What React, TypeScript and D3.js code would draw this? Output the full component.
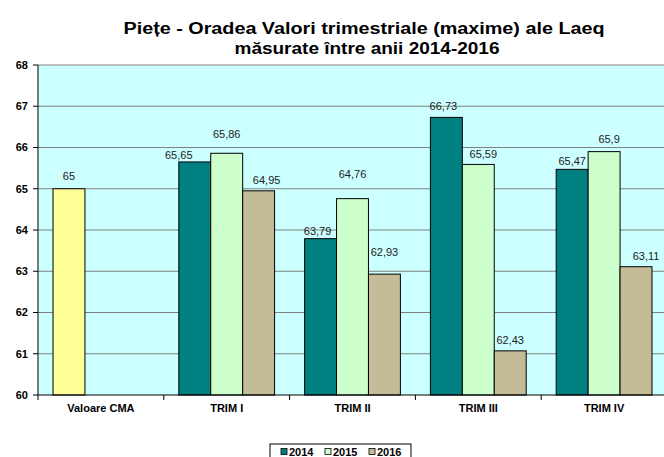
import React from 'react';
import * as d3 from 'd3';

const categories = ['Valoare CMA', 'TRIM I', 'TRIM II', 'TRIM III', 'TRIM IV'];
const years = ['2014', '2015', '2016'];
const cmaValue = 65;
const values2014 = [65.65, 63.79, 66.73, 65.47];
const values2015 = [65.86, 64.76, 65.59, 65.9];
// bar heights as drawn in the picture; the TRIM III 2016 bar sits lower than its label says
const values2016 = [64.95, 62.93, 61.07, 63.11];
const labels2016 = ['64,95', '62,93', '62,43', '63,11'];
const yTicks = [60, 61, 62, 63, 64, 65, 66, 67, 68];

const colors: Record<string, string> = { '2014': '#008080', '2015': '#CCFFCC', '2016': '#C4BC96' };
const cmaColor = '#FFFF99';

// label nudges (px) where the original moved labels to avoid overlap
const labelNudge: Record<string, [number, number]> = {
  cma: [0, -2],
  '2014TRIM I': [-16, 4],
  '2015TRIM I': [0, -9],
  '2016TRIM I': [8, 0],
  '2014TRIM II': [-3, 3],
  '2015TRIM II': [0, -14],
  '2016TRIM II': [0, -12],
  '2014TRIM III': [-3, -1],
  '2015TRIM III': [5, 0],
  '2014TRIM IV': [0, 2],
  '2015TRIM IV': [5, -2],
  '2016TRIM IV': [10, 0],
};

const W = 664;
const H = 457;
const margin = { top: 65, left: 38, bottom: 62 };
const plotRight = 667;

const fmt = (v: number) => String(v).replace('.', ',');

export default function App() {
  const x = d3.scaleBand<string>().domain(categories).range([margin.left, plotRight]).padding(0);
  const xs = d3.scaleBand<string>().domain(years).range([0, x.bandwidth()]).paddingInner(0).paddingOuter(0.47);
  const y = d3.scaleLinear().domain([60, 68]).range([H - margin.bottom, margin.top]);

  const bars: { key: string; x: number; v: number; label: string; fill: string }[] = [];
  bars.push({ key: 'cma', x: (x(categories[0]) ?? 0) + (xs('2014') ?? 0), v: cmaValue, label: fmt(cmaValue), fill: cmaColor });
  const series: [string, number[]][] = [['2014', values2014], ['2015', values2015], ['2016', values2016]];
  series.forEach(([yr, vals]) => {
    vals.forEach((v, i) => {
      const c = categories[i + 1];
      const label = yr === '2016' ? labels2016[i] : fmt(v);
      bars.push({ key: yr + c, x: (x(c) ?? 0) + (xs(yr) ?? 0), v, label, fill: colors[yr] });
    });
  });

  const font = 'Arial, "Liberation Sans", sans-serif';
  const y0 = y(60);

  return (
    <svg width={W} height={H} style={{ position: 'absolute', left: 0, top: 0 }} fontFamily={font}>
      <rect width={W} height={H} fill="#fff" />
      <text x={364} y={34} textAnchor="middle" fontWeight="bold" fontSize={16} textLength={481} lengthAdjust="spacingAndGlyphs">
        Piețe - Oradea Valori trimestriale (maxime) ale Laeq
      </text>
      <text x={367} y={54} textAnchor="middle" fontWeight="bold" fontSize={16} textLength={265} lengthAdjust="spacingAndGlyphs">
        măsurate între anii 2014-2016
      </text>

      <rect x={margin.left} y={margin.top} width={plotRight - margin.left} height={y0 - margin.top} fill="#CCFFFF" />
      {yTicks.map(t => (
        <g key={t}>
          {t > 60 && <line x1={margin.left} x2={plotRight} y1={y(t)} y2={y(t)} stroke="#808080" strokeWidth={1.2} />}
          <line x1={margin.left - 5} x2={margin.left} y1={y(t)} y2={y(t)} stroke="#000" />
          <text x={28} y={y(t)} dy="0.35em" textAnchor="end" fontWeight="bold" fontSize={11}>{t}</text>
        </g>
      ))}

      {bars.map(b => {
        const [nx, ny] = labelNudge[b.key] ?? [0, 0];
        return (
          <g key={b.key}>
            <rect x={b.x} y={y(b.v)} width={xs.bandwidth()} height={y0 - y(b.v)} fill={b.fill} stroke="#000" strokeWidth={1} />
            <text x={b.x + xs.bandwidth() / 2 + nx} y={y(b.v) - 6.5 + ny} textAnchor="middle" fontSize={11} fill="#222">{b.label}</text>
          </g>
        );
      })}

      <line x1={margin.left} x2={margin.left} y1={margin.top} y2={y0} stroke="#000" />
      <line x1={margin.left} x2={plotRight} y1={y0} y2={y0} stroke="#000" />
      {categories.map(c => (
        <g key={c}>
          <line x1={x(c) ?? 0} x2={x(c) ?? 0} y1={y0} y2={y0 + 5} stroke="#000" />
          <text x={(x(c) ?? 0) + x.bandwidth() / 2} y={y0 + 17} textAnchor="middle" fontWeight="bold" fontSize={11}>{c}</text>
        </g>
      ))}

      <rect x={270} y={444} width={141} height={22} fill="#fff" stroke="#000" strokeWidth={1} />
      {years.map((yr, i) => (
        <g key={yr} transform={`translate(${281 + i * 44},452)`}>
          <rect x={0} y={-3.5} width={6} height={6} fill={colors[yr]} stroke="#000" strokeWidth={0.8} />
          <text x={8} y={0} dy="0.35em" fontWeight="bold" fontSize={11}>{yr}</text>
        </g>
      ))}
    </svg>
  );
}
